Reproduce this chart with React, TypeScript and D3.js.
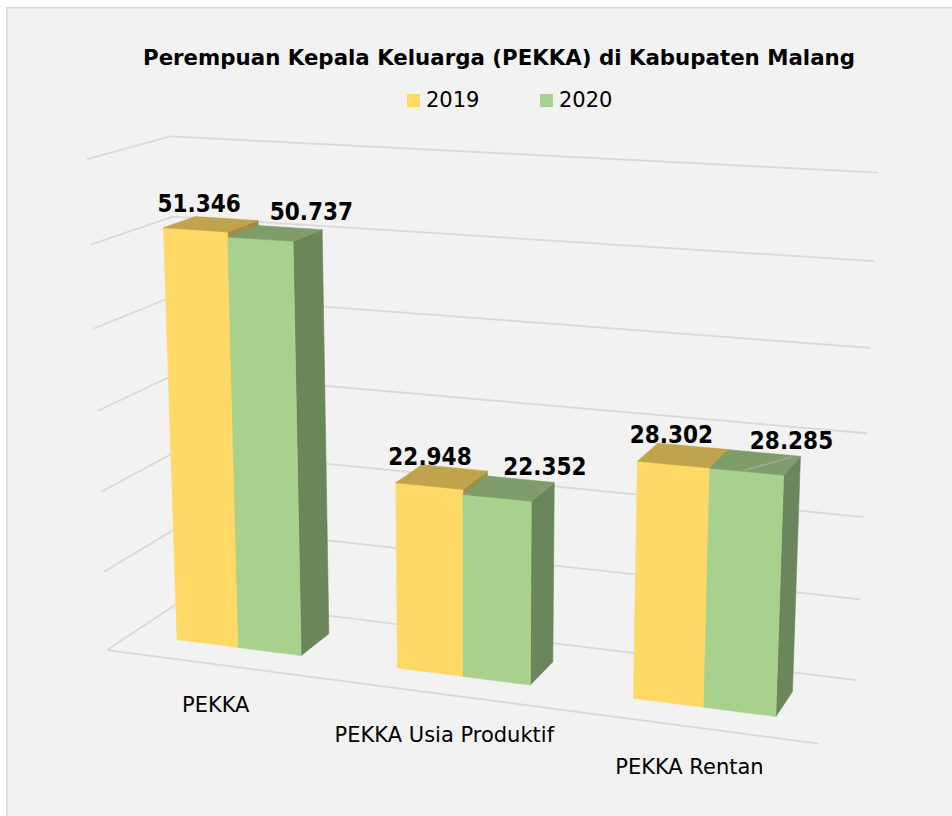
import React from "react";
import * as d3 from "d3";

// ---------- data ----------
const title = "Perempuan Kepala Keluarga (PEKKA) di Kabupaten Malang";
const categories = ["PEKKA", "PEKKA Usia Produktif", "PEKKA Rentan"];
const seriesNames = ["2019", "2020"];
const values2019 = [51346, 22948, 28302];
const values2020 = [50737, 22352, 28285];
const yTicks = [0, 10000, 20000, 30000, 40000, 50000, 60000];
const yMax = 60000;
// label (series index, category index) that carries a leader line
const leaderLabels = [[1, 2]];

// ---------- style ----------
const frontColors = ["#FFD966", "#A9D18E"];
const labelOffsets = [
  [-12, -21],
  [36, -22],
];
const gridColor = "#D9D9D9";
const FONT = "'DejaVu Sans', Verdana, sans-serif";

// ---------- 3D camera ----------
const DEG = Math.PI / 180;
const yaw = 20 * DEG;
const pitch = 14.3 * DEG;
const focal = 2400;
const cx = 481;
const cy = 416;
const origin = [-514, 321.8, 3300];
const ex = [Math.cos(yaw), Math.sin(yaw) * Math.sin(pitch), -Math.sin(yaw) * Math.cos(pitch)];
const ey = [0, -Math.cos(pitch), -Math.sin(pitch)];
const ez = [Math.sin(yaw), -Math.cos(yaw) * Math.sin(pitch), Math.cos(yaw) * Math.cos(pitch)];

function project(X: number, Y: number, Z: number): [number, number] {
  const c = [0, 1, 2].map((k) => origin[k] + X * ex[k] + Y * ey[k] + Z * ez[k]);
  return [cx + (focal * c[0]) / c[2], cy + (focal * c[1]) / c[2]];
}

const W = 992;
const H = 678;

const x0 = d3
  .scaleBand<string>()
  .domain(categories)
  .range([0, W])
  .paddingInner(1.5 / 3.5)
  .paddingOuter(0.75 / 3.5);
const x1 = d3.scaleBand<string>().domain(seriesNames).range([0, x0.bandwidth()]);
const barW = x1.bandwidth();
const D = barW * 2.5;
const z0 = (D - barW) / 2;
const z1 = z0 + barW;
const yScale = d3.scaleLinear().domain([0, yMax]).range([0, H]);

function shade(c: string, k: number) {
  const r = d3.rgb(c);
  return d3.rgb(r.r * k, r.g * k, r.b * k).formatHex();
}

const poly = (pts: [number, number][]) =>
  "M" + pts.map((p) => p[0].toFixed(2) + "," + p[1].toFixed(2)).join("L") + "Z";
const line = (a: [number, number], b: [number, number]) =>
  `M${a[0].toFixed(2)},${a[1].toFixed(2)}L${b[0].toFixed(2)},${b[1].toFixed(2)}`;

const fmt = (v: number) => d3.format(",")(v).replace(/,/g, ".");

export default function App() {
  const seriesValues = [values2019, values2020];

  const bars: JSX.Element[] = [];
  const labels: JSX.Element[] = [];
  categories.forEach((cat, i) => {
    seriesNames.forEach((s, si) => {
      const v = seriesValues[si][i];
      const X0 = (x0(cat) as number) + (x1(s) as number);
      const X1 = X0 + barW;
      const Yt = yScale(v);
      const front = frontColors[si];
      const side = shade(front, 0.64);
      const top = shade(front, 0.75);
      const faces: [string, [number, number][]][] = [
        [side, [project(X1, 0, z0), project(X1, 0, z1), project(X1, Yt, z1), project(X1, Yt, z0)]],
        [front, [project(X0, 0, z0), project(X1, 0, z0), project(X1, Yt, z0), project(X0, Yt, z0)]],
        [top, [project(X0, Yt, z0), project(X1, Yt, z0), project(X1, Yt, z1), project(X0, Yt, z1)]],
      ];
      faces.forEach(([col, pts], fi) => {
        bars.push(
          <path key={`b${i}-${si}-${fi}`} d={poly(pts)} fill={col} stroke={col} strokeWidth={0.6} strokeLinejoin="round" />
        );
      });
      const c = project((X0 + X1) / 2, Yt, (z0 + z1) / 2);
      const lx = c[0] + labelOffsets[si][0];
      const ly = c[1] + labelOffsets[si][1];
      const hasLeader = leaderLabels.some((p) => p[0] === si && p[1] === i);
      if (hasLeader) {
        const a = project((X0 + X1) / 2 - barW * 0.05, Yt, z0 + barW * 0.05);
        labels.push(
          <path key={`ll${i}-${si}`} d={line(a, [lx, ly + 17])} stroke="#A6A6A6" strokeWidth={1.3} fill="none" />
        );
      }
      labels.push(
        <text
          key={`l${i}-${si}`}
          transform={`translate(${lx.toFixed(2)},${ly.toFixed(2)}) scale(0.9,1)`}
          x={0}
          y={0}
          dy="0.36em"
          textAnchor="middle"
          fontFamily={FONT}
          fontWeight="bold"
          fontSize={24}
          fill="#000"
        >
          {fmt(v)}
        </text>
      );
    });
  });

  const grid: JSX.Element[] = [];
  yTicks.forEach((t, k) => {
    const Y = yScale(t);
    grid.push(<path key={`gb${k}`} d={line(project(0, Y, D), project(W, Y, D))} stroke={gridColor} strokeWidth={1.8} fill="none" />);
    grid.push(<path key={`gl${k}`} d={line(project(0, Y, 0), project(0, Y, D))} stroke={gridColor} strokeWidth={1.8} fill="none" />);
  });
  grid.push(<path key="floorFront" d={line(project(0, 0, 0), project(W, 0, 0))} stroke={gridColor} strokeWidth={1.8} fill="none" />);

  const catLabels = categories.map((cat, i) => {
    const p = project((x0(cat) as number) + x0.bandwidth() / 2, 0, 0);
    return (
      <text key={`c${i}`} x={p[0]} y={p[1] + 40} dy="0.36em" textAnchor="middle" fontFamily={FONT} fontSize={21} fill="#000">
        {cat}
      </text>
    );
  });

  return (
    <svg width={952} height={816} style={{ position: "absolute", left: 0, top: 0, background: "#fff" }}>
      <rect x={6.75} y={7.75} width={980} height={840} fill="#F2F2F2" stroke="#D9D9D9" strokeWidth={1.5} />
      {grid}
      {bars}
      {labels}
      {catLabels}
      <text x={499} y={65} textAnchor="middle" fontFamily={FONT} fontWeight="bold" fontSize={22} textLength={712} lengthAdjust="spacingAndGlyphs" fill="#000">
        {title}
      </text>
      {seriesNames.map((s, si) => (
        <g key={`lg${si}`} transform={`translate(${407 + si * 133},94)`}>
          <rect x={0} y={0} width={13} height={13} fill={frontColors[si]} />
          <text x={19} y={13} fontFamily={FONT} fontSize={21} fill="#000">
            {s}
          </text>
        </g>
      ))}
    </svg>
  );
}
